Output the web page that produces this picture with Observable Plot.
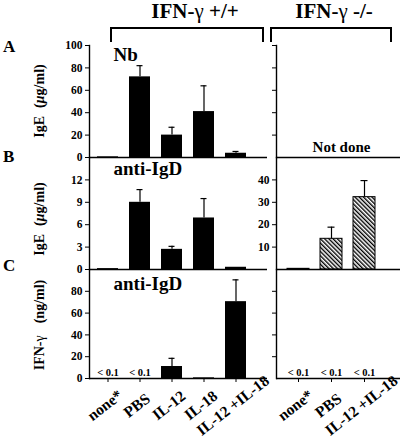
<!DOCTYPE html>
<html><head><meta charset="utf-8">
<script src="https://cdn.jsdelivr.net/npm/d3@7"></script>
<script src="https://cdn.jsdelivr.net/npm/@observablehq/plot@0.6"></script>
<style>
html,body{margin:0;padding:0;background:#fff;}
#wrap{position:relative;width:400px;height:448px;overflow:hidden;background:#fff;}
#wrap > svg{position:absolute;left:0;top:0;overflow:visible;background:transparent;}
</style></head><body>
<svg width="0" height="0" style="position:absolute">
<defs><pattern id="hatch" width="3" height="3" patternUnits="userSpaceOnUse" patternTransform="rotate(-45)">
<rect width="3" height="3" fill="#fff"/><line x1="0.7" y1="0" x2="0.7" y2="3" stroke="#000" stroke-width="1.4"/></pattern></defs></svg>
<div id="wrap"></div>
<script>
// categories
const leftCats = ["none*", "PBS", "IL-12", "IL-18", "IL-12 +IL-18"];
const rightCats = ["none*", "PBS", "IL-12 +IL-18"];
// A: Nb, IgE (µg/ml), IFN-γ +/+
const nbWT = [0.6, 72, 20, 41, 3.8];
const nbWTsd = [0, 10, 7, 23, 1.6];
// B: anti-IgD, IgE (µg/ml)
const igdWT = [0.12, 9.0, 2.7, 6.9, 0.3];
const igdWTsd = [0, 1.7, 0.4, 2.6, 0];
const igdKO = [0.3, 13.7, 32.3];
const igdKOsd = [0, 5.2, 7.4];
// C: anti-IgD, IFN-γ (ng/ml)
const ifnWT = [0, 0, 11, 0.6, 70.5];
const ifnWTsd = [0, 0, 7.5, 0, 20];
const ifnKO = [0, 0, 0];
const ifnKOsd = [0, 0, 0];
const belowWT = ["none*", "PBS"];
const belowKO = ["none*", "PBS", "IL-12 +IL-18"];
// tick values
const ticksA = [0, 20, 40, 60, 80, 100];
const ticksAR = [20, 40, 60, 80, 100];
const ticksB = [0, 3, 6, 9, 12];
const ticksBR = [10, 20, 30, 40];
const ticksC = [0, 20, 40, 60, 80];
const ticksCR = [20, 40, 60, 80];

const FONT = "'Liberation Serif', 'Times New Roman', serif";
const rows = {A: [45, 157], B: [157, 269], C: [269, 378]};
const wrap = document.getElementById("wrap");

function panel(o) {
  const [top, bottom] = rows[o.row];
  const H = o.xAxis ? 448 : bottom + 3;
  const isLeft = o.side === "left";
  const data = o.cats.map((c, i) => ({c, v: o.vals[i], e: o.sd[i]}));
  const err = data.filter(d => d.e > 0);
  const marks = [
    Plot.barY(data.filter(d => d.v > 0), {x: "c", y: "v", fill: o.fill, stroke: o.stroke || null, strokeWidth: 1}),
    Plot.ruleX(err, {x: "c", y1: "v", y2: d => d.v + d.e, strokeWidth: 1.2}),
    Plot.tickY(err, {x: "c", y: d => d.v + d.e, insetLeft: 7.5, insetRight: 7.5, strokeWidth: 1.2}),
    Plot.ruleY([0], {strokeWidth: 1.4}),
    Plot.frame({anchor: "left", strokeWidth: 1.4}),
    Plot.axisY(o.ticks, {tickSize: 4, tickPadding: 3, fontSize: 11.5, label: null,
      tickFormat: o.labels ? d => d : () => ""})
  ];
  if (o.xAxis) {
    marks.push(Plot.axisX({tickSize: 4, tickFormat: () => "", label: null}));
    marks.push(Plot.text(o.cats, {x: d => d, frameAnchor: "bottom", text: d => d, rotate: -38,
      textAnchor: "middle", lineAnchor: "middle", dx: -3, dy: 27, fontSize: 15.5}));
  }
  if (o.extra) marks.push(...o.extra);
  const svg = Plot.plot({
    width: 400, height: H,
    marginTop: top, marginBottom: H - bottom,
    marginLeft: isLeft ? 89 : 276, marginRight: isLeft ? 133 : 0,
    style: {fontFamily: FONT, fontWeight: "bold", fontSize: "11px", background: "transparent", overflow: "visible", color: "#000"},
    x: {domain: o.cats, range: isLeft ? [84, 260] : [276, 386], padding: 1/3, label: null, axis: o.xAxis ? undefined : null},
    y: {domain: o.domain, label: null},
    marks
  });
  wrap.appendChild(svg);
}

const lbl = (t, dy) => Plot.text([t], {frameAnchor: "top-left", dx: 24, dy, text: d => d, fontSize: 19, textAnchor: "start", lineAnchor: "top"});
const below = arr => Plot.text(arr, {x: d => d, y: 0, text: () => "< 0.1", dy: -6, fontSize: 10.5});

panel({row: "A", side: "left", cats: leftCats, vals: nbWT, sd: nbWTsd, domain: [0, 100], ticks: ticksA, labels: true, fill: "#000",
  extra: [lbl("Nb", 2)]});
panel({row: "A", side: "right", cats: rightCats, vals: [0, 0, 0], sd: [0, 0, 0], domain: [0, 100], ticks: ticksAR, labels: false, fill: "#000",
  extra: [Plot.text(["Not done"], {frameAnchor: "bottom", dx: 3, dy: -6, text: d => d, fontSize: 15, lineAnchor: "bottom"})]});
panel({row: "B", side: "left", cats: leftCats, vals: igdWT, sd: igdWTsd, domain: [0, 15], ticks: ticksB, labels: true, fill: "#000",
  extra: [lbl("anti-IgD", 4)]});
panel({row: "B", side: "right", cats: rightCats, vals: igdKO, sd: igdKOsd, domain: [0, 50], ticks: ticksBR, labels: true, fill: "url(#hatch)", stroke: "#000"});
panel({row: "C", side: "left", cats: leftCats, vals: ifnWT, sd: ifnWTsd, domain: [0, 100], ticks: ticksC, labels: true, fill: "#000", xAxis: true,
  extra: [lbl("anti-IgD", 7), below(belowWT)]});
panel({row: "C", side: "right", cats: rightCats, vals: ifnKO, sd: ifnKOsd, domain: [0, 100], ticks: ticksCR, labels: false, fill: "#000", xAxis: true,
  extra: [below(belowKO)]});

// headers, brackets, panel letters, axis titles
const ns = "http://www.w3.org/2000/svg";
const ov = document.createElementNS(ns, "svg");
ov.setAttribute("width", 400); ov.setAttribute("height", 448);
ov.innerHTML = `
<g font-family="${FONT.replace(/'/g, "&quot;")}" font-weight="bold" fill="#000">
  <text x="195" y="18" text-anchor="middle" font-size="21">IFN-<tspan font-weight="normal">γ</tspan> +/+</text>
  <text x="334" y="18" text-anchor="middle" font-size="21">IFN-<tspan font-weight="normal">γ</tspan> -/-</text>
  <path d="M111,42V28H263V42M271,42V28H391V42" fill="none" stroke="#000" stroke-width="2"/>
  <text x="3" y="52" font-size="17">A</text>
  <text x="3" y="162" font-size="17">B</text>
  <text x="3" y="271" font-size="17">C</text>
  <text transform="translate(44,101) rotate(-90)" text-anchor="middle" font-size="14">IgE<tspan dx="8">(</tspan><tspan font-style="italic">μ</tspan>g/ml)</text>
  <text transform="translate(44,219) rotate(-90)" text-anchor="middle" font-size="14">IgE<tspan dx="8">(</tspan><tspan font-style="italic">μ</tspan>g/ml)</text>
  <text transform="translate(44,325) rotate(-90)" text-anchor="middle" font-size="14">IFN-<tspan font-weight="normal">γ</tspan><tspan dx="12">(ng/ml)</tspan></text>
</g>`;
wrap.appendChild(ov);
</script>
</body></html>
